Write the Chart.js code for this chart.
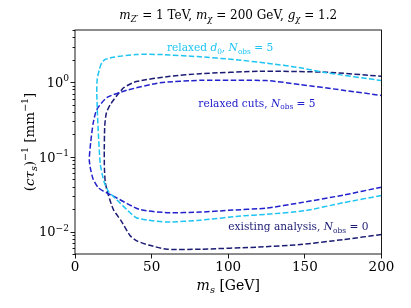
<!DOCTYPE html>
<html>
<head>
<meta charset="utf-8">
<script src="https://cdn.jsdelivr.net/npm/chart.js@4.4.0/dist/chart.umd.min.js"></script>
<style>
  body { margin: 0; background: #fff; }
  #wrap { width: 411px; height: 308px; }
</style>
</head>
<body>
<div id="wrap"><canvas id="chart" width="411" height="308"></canvas></div>
<script>
// contours, ordered bottom-right -> left -> top-right
const d0X = [200, 175, 150, 125, 108, 82, 60, 48, 40, 34, 27, 22, 19, 16.5, 15, 14.2, 14.5, 15.9, 17.4, 19.6, 25, 40, 55, 80, 105, 125, 147, 164, 200];
const d0Y = [0.0304, 0.0243, 0.019, 0.017, 0.0161, 0.0142, 0.0134, 0.0142, 0.0153, 0.0195, 0.027, 0.034, 0.046, 0.08, 0.26, 0.73, 1.1, 1.48, 1.82, 2.01, 2.16, 2.35, 2.35, 2.2, 2.0, 1.8, 1.56, 1.34, 1.05];

const cutsX = [200, 175, 147, 125, 100, 82, 60, 42, 27, 18.5, 15.2, 11.9, 10.2, 9.3, 10.2, 11.9, 14.2, 20.7, 33.8, 55.5, 82, 125, 147, 175, 200];
const cutsY = [0.0393, 0.0307, 0.0243, 0.0206, 0.0192, 0.0182, 0.0179, 0.0198, 0.0283, 0.0348, 0.0386, 0.0498, 0.0678, 0.092, 0.154, 0.286, 0.43, 0.62, 0.78, 0.98, 1.06, 1.05, 0.93, 0.78, 0.664];

const existX = [200, 175, 147, 120, 82, 60, 48, 40.3, 36, 30, 25, 21.5, 19.8, 19.2, 19.1, 19.4, 20.5, 23, 27, 32, 40, 62, 82, 121, 164, 200];
const existY = [0.0091, 0.0078, 0.0067, 0.0062, 0.0058, 0.0058, 0.0066, 0.0075, 0.0088, 0.014, 0.0198, 0.032, 0.045, 0.07, 0.12, 0.26, 0.39, 0.5, 0.65, 0.85, 1.02, 1.2, 1.3, 1.4, 1.36, 1.2];

const xTicks = [0, 50, 100, 150, 200];
const yDecades = [-2, -1, 0];

const colD0 = "#1ec4f2";
const colCuts = "#2222cc";
const colExist = "#1c1c74";
const serif = "'DejaVu Serif', serif";

function pts(xs, ys) {
  return xs.map((x, i) => ({ x: x, y: ys[i] }));
}

function isDecade(v) {
  const l = Math.log10(v);
  return Math.abs(l - Math.round(l)) < 1e-9;
}

// text made of segments: {t, i (italic), s ("sub"/"sup")}
function richWidth(ctx, segs, size) {
  let w = 0;
  segs.forEach(g => {
    const sz = g.s ? size * 0.7 : size;
    ctx.font = (g.i ? "italic " : "") + sz + "px " + serif;
    w += ctx.measureText(g.t).width;
  });
  return w;
}

function drawRich(ctx, segs, x, y, size, color, align) {
  const w = richWidth(ctx, segs, size);
  let cx = x;
  if (align === "center") cx = x - w / 2;
  if (align === "right") cx = x - w;
  ctx.fillStyle = color;
  ctx.textBaseline = "alphabetic";
  ctx.textAlign = "left";
  segs.forEach(g => {
    const sz = g.s ? size * 0.7 : size;
    ctx.font = (g.i ? "italic " : "") + sz + "px " + serif;
    let dy = 0;
    if (g.s === "sub") dy = size * 0.22;
    if (g.s === "sup") dy = -size * 0.42;
    ctx.fillText(g.t, cx, y + dy);
    cx += ctx.measureText(g.t).width;
  });
}

const decor = {
  id: "decor",
  afterDraw(chart) {
    const ctx = chart.ctx;
    const a = chart.chartArea;
    const xs = chart.scales.x;
    const ys = chart.scales.y;
    ctx.save();

    ctx.strokeStyle = "#000";
    ctx.lineWidth = 0.9;
    ctx.strokeRect(a.left, a.top, a.right - a.left, a.bottom - a.top);

    ys.ticks.forEach(t => {
      const py = Math.round(ys.getPixelForValue(t.value)) + 0.5;
      const len = isDecade(t.value) ? 4.5 : 2.5;
      ctx.beginPath();
      ctx.moveTo(a.left, py);
      ctx.lineTo(a.left - len, py);
      ctx.stroke();
    });

    yDecades.forEach(k => {
      const py = ys.getPixelForValue(Math.pow(10, k));
      const exp = k < 0 ? "−" + (-k) : String(k);
      drawRich(ctx, [{ t: "10" }, { t: exp, s: "sup" }], a.left - 6, py + 4.7, 13, "#000", "right");
    });

    drawRich(ctx, [
      { t: "m", i: true }, { t: "Z′", i: true, s: "sub" }, { t: " = 1 TeV, " },
      { t: "m", i: true }, { t: "χ", i: true, s: "sub" }, { t: " = 200 GeV, " },
      { t: "g", i: true }, { t: "χ", i: true, s: "sub" }, { t: " = 1.2" }
    ], (a.left + a.right) / 2, 19, 12, "#000", "center");

    drawRich(ctx, [{ t: "m", i: true }, { t: "s", i: true, s: "sub" }, { t: " [GeV]" }],
      (a.left + a.right) / 2, 290, 14, "#000", "center");

    ctx.save();
    ctx.translate(34, (a.top + a.bottom) / 2);
    ctx.rotate(-Math.PI / 2);
    drawRich(ctx, [
      { t: "(" }, { t: "cτ", i: true }, { t: "s", i: true, s: "sub" }, { t: ")" },
      { t: "−1", s: "sup" }, { t: " [mm" }, { t: "−1", s: "sup" }, { t: "]" }
    ], 0, 0, 13.5, "#000", "center");
    ctx.restore();

    drawRich(ctx, [
      { t: "relaxed " }, { t: "d", i: true }, { t: "0", s: "sub" }, { t: ", " },
      { t: "N", i: true }, { t: "obs", s: "sub" }, { t: " = 5" }
    ], xs.getPixelForValue(60), ys.getPixelForValue(2.6), 10.6, colD0, "left");

    drawRich(ctx, [
      { t: "relaxed cuts, " }, { t: "N", i: true }, { t: "obs", s: "sub" }, { t: " = 5" }
    ], xs.getPixelForValue(80.5), ys.getPixelForValue(0.47), 10.6, colCuts, "left");

    drawRich(ctx, [
      { t: "existing analysis, " }, { t: "N", i: true }, { t: "obs", s: "sub" }, { t: " = 0" }
    ], xs.getPixelForValue(100), ys.getPixelForValue(0.0104), 10.6, colExist, "left");

    ctx.restore();
  }
};

function curve(label, xs, ys, color) {
  return {
    label: label,
    data: pts(xs, ys),
    showLine: true,
    borderColor: color,
    borderWidth: 1.5,
    borderDash: [5.5, 2.4],
    pointRadius: 0,
    tension: 0.2,
    fill: false
  };
}

new Chart(document.getElementById("chart"), {
  type: "scatter",
  data: {
    datasets: [
      curve("relaxed d0, Nobs = 5", d0X, d0Y, colD0),
      curve("relaxed cuts, Nobs = 5", cutsX, cutsY, colCuts),
      curve("existing analysis, Nobs = 0", existX, existY, colExist)
    ]
  },
  options: {
    responsive: false,
    animation: false,
    layout: { padding: { top: 30, right: 29.5, left: 0, bottom: 0 } },
    plugins: { legend: { display: false }, tooltip: { enabled: false } },
    scales: {
      x: {
        type: "linear",
        min: 0,
        max: 200,
        afterBuildTicks: s => { s.ticks = xTicks.map(v => ({ value: v })); },
        afterFit: s => { s.height = 54; },
        ticks: { font: { family: serif, size: 13.5 }, color: "#000", padding: 1, maxRotation: 0 },
        grid: { display: true, drawOnChartArea: false, drawTicks: true, tickLength: 4.5, color: "#000", lineWidth: 0.9 },
        border: { display: false }
      },
      y: {
        type: "logarithmic",
        min: 0.005,
        max: 5,
        afterBuildTicks: s => {
          const t = [];
          for (let k = -3; k <= 0; k++) {
            for (let m = 1; m <= 9; m++) {
              const v = Number((m * Math.pow(10, k)).toPrecision(3));
              if (v >= 0.005 && v <= 5) t.push({ value: v });
            }
          }
          s.ticks = t;
        },
        afterFit: s => { s.width = 75; },
        ticks: { display: false, autoSkip: false },
        grid: { display: false },
        border: { display: false }
      }
    }
  },
  plugins: [decor]
});
</script>
</body>
</html>
